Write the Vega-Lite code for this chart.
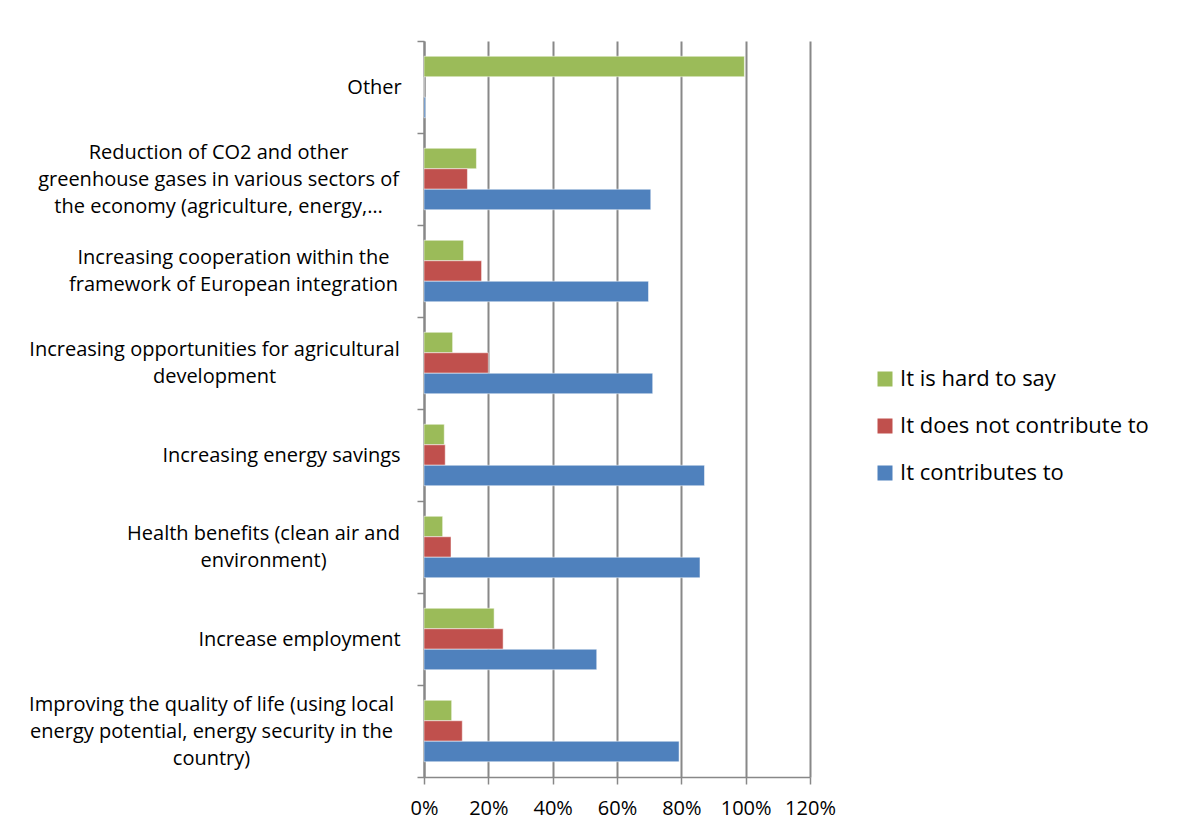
{
  "$schema": "https://vega.github.io/schema/vega-lite/v6.json",
  "autosize": {"type": "none"},
  "padding": {"left": 424, "top": 41, "right": 367, "bottom": 57},
  "width": 386,
  "height": 736,
  "background": "white",
  "config": {
    "view": {"stroke": null},
    "font": "Open Sans",
    "axis": {"labelFont": "Open Sans", "labelColor": "#000000"},
    "legend": {"labelFont": "Open Sans"}
  },
  "data": {
    "values": [
      {"category": "Other", "series": "It is hard to say", "value": 0.996},
      {"category": "Other", "series": "It does not contribute to", "value": 0.0},
      {"category": "Other", "series": "It contributes to", "value": 0.005},
      {"category": "Reduction of CO2 and other\ngreenhouse gases in various sectors of\nthe economy (agriculture, energy,…", "series": "It is hard to say", "value": 0.163},
      {"category": "Reduction of CO2 and other\ngreenhouse gases in various sectors of\nthe economy (agriculture, energy,…", "series": "It does not contribute to", "value": 0.135},
      {"category": "Reduction of CO2 and other\ngreenhouse gases in various sectors of\nthe economy (agriculture, energy,…", "series": "It contributes to", "value": 0.705},
      {"category": "Increasing cooperation within the \nframework of European integration", "series": "It is hard to say", "value": 0.123},
      {"category": "Increasing cooperation within the \nframework of European integration", "series": "It does not contribute to", "value": 0.179},
      {"category": "Increasing cooperation within the \nframework of European integration", "series": "It contributes to", "value": 0.698},
      {"category": "Increasing opportunities for agricultural\ndevelopment", "series": "It is hard to say", "value": 0.089},
      {"category": "Increasing opportunities for agricultural\ndevelopment", "series": "It does not contribute to", "value": 0.2},
      {"category": "Increasing opportunities for agricultural\ndevelopment", "series": "It contributes to", "value": 0.711},
      {"category": "Increasing energy savings", "series": "It is hard to say", "value": 0.063},
      {"category": "Increasing energy savings", "series": "It does not contribute to", "value": 0.066},
      {"category": "Increasing energy savings", "series": "It contributes to", "value": 0.872},
      {"category": "Health benefits (clean air and\nenvironment)", "series": "It is hard to say", "value": 0.058},
      {"category": "Health benefits (clean air and\nenvironment)", "series": "It does not contribute to", "value": 0.084},
      {"category": "Health benefits (clean air and\nenvironment)", "series": "It contributes to", "value": 0.858},
      {"category": "Increase employment", "series": "It is hard to say", "value": 0.218},
      {"category": "Increase employment", "series": "It does not contribute to", "value": 0.246},
      {"category": "Increase employment", "series": "It contributes to", "value": 0.537},
      {"category": "Improving the quality of life (using local\nenergy potential, energy security in the\ncountry)", "series": "It is hard to say", "value": 0.086},
      {"category": "Improving the quality of life (using local\nenergy potential, energy security in the\ncountry)", "series": "It does not contribute to", "value": 0.119},
      {"category": "Improving the quality of life (using local\nenergy potential, energy security in the\ncountry)", "series": "It contributes to", "value": 0.793}
    ]
  },
  "mark": {"type": "bar", "stroke": "#ffffff", "strokeOpacity": 0.5, "strokeWidth": 1},
  "encoding": {
    "y": {
      "field": "category",
      "type": "nominal",
      "sort": null,
      "scale": {"paddingInner": 0, "paddingOuter": 0},
      "axis": {
        "title": null,
        "tickBand": "extent",
        "tickSize": 7,
        "tickColor": "#888888",
        "tickWidth": 1.5,
        "domainColor": "#888888",
        "domainWidth": 2,
        "labelFontSize": 20,
        "labelLineHeight": 27,
        "labelLimit": 0,
        "labelAlign": "center",
        "labelBaseline": "middle",
        "labelExpr": "split(datum.label, '\\n')",
        "labelOffset": {
          "condition": [
            {"test": "substring(datum.value, 0, 9) == 'Reduction'", "value": -27},
            {"test": "substring(datum.value, 0, 9) == 'Improving'", "value": -27},
            {"test": "substring(datum.value, 0, 22) == 'Increasing cooperation'", "value": -13.5},
            {"test": "substring(datum.value, 0, 24) == 'Increasing opportunities'", "value": -13.5},
            {"test": "substring(datum.value, 0, 6) == 'Health'", "value": -13.5}
          ],
          "value": 0
        },
        "labelPadding": {
          "condition": [
            {"test": "substring(datum.value, 0, 5) == 'Other'", "value": 43},
            {"test": "substring(datum.value, 0, 9) == 'Reduction'", "value": 199},
            {"test": "substring(datum.value, 0, 22) == 'Increasing cooperation'", "value": 184},
            {"test": "substring(datum.value, 0, 24) == 'Increasing opportunities'", "value": 203},
            {"test": "substring(datum.value, 0, 17) == 'Increasing energy'", "value": 136},
            {"test": "substring(datum.value, 0, 6) == 'Health'", "value": 154},
            {"test": "substring(datum.value, 0, 19) == 'Increase employment'", "value": 118}
          ],
          "value": 206
        }
      }
    },
    "yOffset": {
      "field": "series",
      "type": "nominal",
      "sort": ["It is hard to say", "It does not contribute to", "It contributes to"],
      "scale": {"paddingInner": 0, "paddingOuter": 0.745}
    },
    "x": {
      "field": "value",
      "type": "quantitative",
      "scale": {"domain": [0, 1.2], "nice": false},
      "axis": {
        "title": null,
        "values": [0, 0.2, 0.4, 0.6, 0.8, 1.0, 1.2],
        "format": ".0%",
        "grid": true,
        "gridColor": "#888888",
        "gridWidth": 2,
        "domainColor": "#888888",
        "domainWidth": 1.5,
        "tickColor": "#888888",
        "tickWidth": 1.5,
        "tickSize": 7,
        "labelFontSize": 20,
        "labelPadding": 14,
        "labelFlush": false
      }
    },
    "color": {
      "field": "series",
      "type": "nominal",
      "sort": ["It is hard to say", "It does not contribute to", "It contributes to"],
      "scale": {
        "domain": ["It is hard to say", "It does not contribute to", "It contributes to"],
        "range": ["#9BBB59", "#C0504D", "#4F81BD"]
      },
      "legend": {
        "title": null,
        "orient": "none",
        "legendX": 450,
        "legendY": 327,
        "symbolType": "square",
        "symbolSize": 225,
        "symbolStrokeWidth": 0,
        "labelFontSize": 22,
        "labelLimit": 0,
        "labelOffset": 4,
        "rowPadding": 25,
        "padding": 0,
        "labelColor": "#000000"
      }
    }
  }
}
